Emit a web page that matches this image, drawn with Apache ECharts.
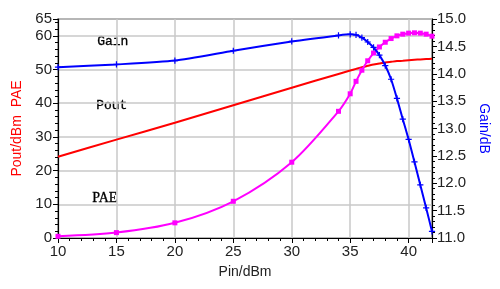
<!DOCTYPE html>
<html>
<head>
<meta charset="utf-8">
<script src="https://cdn.jsdelivr.net/npm/echarts@6/dist/echarts.min.js"></script>
<style>
html,body{margin:0;padding:0;background:#fff;}
#c{width:500px;height:289px;}
</style>
</head>
<body>
<div id="c"></div>
<script>
// Pin/dBm values (x)
const pin = [10, 15, 20, 25, 30, 34, 35, 35.5, 36, 36.5, 37, 37.5, 38, 38.5, 39, 39.5, 40, 40.5, 41, 41.5, 42];
// Pout/dBm (left axis)
const pout = [24.1, 29.2, 34.2, 39.4, 44.6, 48.7, 49.7, 50.2, 50.7, 51.1, 51.5, 51.8, 52.1, 52.3, 52.5, 52.6, 52.75, 52.9, 53.0, 53.1, 53.2];
// PAE (left axis)
const pae = [0.5, 1.6, 4.5, 10.9, 22.5, 37.6, 42.8, 46.5, 49.8, 52.6, 54.9, 56.7, 58.1, 59.2, 60.0, 60.5, 60.8, 60.9, 60.8, 60.5, 59.9];
// Gain/dB (right axis)
const gain = [14.12, 14.17, 14.24, 14.42, 14.59, 14.70, 14.72, 14.71, 14.66, 14.58, 14.48, 14.34, 14.15, 13.90, 13.55, 13.17, 12.80, 12.39, 11.97, 11.55, 11.12];

const xTicks = [10, 15, 20, 25, 30, 35, 40];
const leftTicks = [0, 10, 20, 30, 40, 50, 60, 65];
const rightTicks = [11.0, 11.5, 12.0, 12.5, 13.0, 13.5, 14.0, 14.5, 15.0];

const zip = (xs, ys) => xs.map((x, i) => [x, ys[i]]);

const chart = echarts.init(document.getElementById('c'), null, {renderer: 'canvas'});
const labelFont = {fontFamily: 'Liberation Sans', fontSize: 15, color: '#222'};
chart.setOption({
  animation: false,
  backgroundColor: '#fff',
  grid: {left: 58, right: 68, top: 19, bottom: 51, show: true, borderColor: '#000', borderWidth: 1.2, backgroundColor: 'transparent'},
  xAxis: {
    type: 'value', min: xTicks[0], max: 42, interval: 5,
    name: 'Pin/dBm', nameLocation: 'middle', nameGap: 27,
    nameTextStyle: {fontFamily: 'Liberation Sans', fontSize: 14, color: '#222'},
    axisLine: {show: true, lineStyle: {color: '#000', width: 1.2}},
    axisTick: {show: true, inside: false, length: 5, lineStyle: {color: '#000'}},
    minorTick: {show: true, splitNumber: 5, length: 3, lineStyle: {color: '#000'}},
    axisLabel: Object.assign({margin: 6, showMaxLabel: false, formatter: v => xTicks.includes(v) ? String(v) : ''}, labelFont),
    splitLine: {show: true, lineStyle: {color: '#c8c8c8', width: 1.5}}
  },
  yAxis: [{
    type: 'value', min: leftTicks[0], max: 65, interval: 10, position: 'left',
    name: 'Pout/dBm  PAE', nameLocation: 'middle', nameGap: 30, nameRotate: 90,
    nameTextStyle: {fontFamily: 'Liberation Sans', fontSize: 14, color: '#ff0000'},
    axisLine: {show: true, lineStyle: {color: '#000', width: 1.2}},
    axisTick: {show: true, inside: false, length: 5, lineStyle: {color: '#000'}},
    minorTick: {show: true, splitNumber: 5, length: 3, lineStyle: {color: '#000'}},
    axisLabel: Object.assign({margin: 6, formatter: v => leftTicks.includes(v) ? String(v) : ''}, labelFont),
    splitLine: {show: true, lineStyle: {color: '#c8c8c8', width: 1.5}}
  }, {
    type: 'value', min: 11, max: 15, interval: 0.5, position: 'right',
    name: 'Gain/dB', nameLocation: 'middle', nameGap: 41, nameRotate: -90,
    nameTextStyle: {fontFamily: 'Liberation Sans', fontSize: 14, color: '#0000ff'},
    axisLine: {show: true, lineStyle: {color: '#000', width: 1.2}},
    axisTick: {show: true, inside: false, length: 5, lineStyle: {color: '#000'}},
    minorTick: {show: true, splitNumber: 5, length: 3, lineStyle: {color: '#000'}},
    axisLabel: Object.assign({margin: 5, formatter: v => v.toFixed(1)}, labelFont),
    splitLine: {show: false}
  }],
  series: [{
    name: 'Pout', type: 'line', yAxisIndex: 0, data: zip(pin, pout),
    showSymbol: false, symbol: 'none', smooth: 0.2,
    lineStyle: {color: '#ff0000', width: 2}, itemStyle: {color: '#ff0000'}, z: 3
  }, {
    name: 'PAE', type: 'line', yAxisIndex: 0, data: zip(pin, pae),
    symbol: 'rect', symbolSize: 5, smooth: 0.3,
    lineStyle: {color: '#ff00ff', width: 2}, itemStyle: {color: '#ff00ff'}, z: 4
  }, {
    name: 'Gain', type: 'line', yAxisIndex: 1, data: zip(pin, gain),
    symbol: 'path://M0,4L8,4L8,4.01L0,4.01ZM4,0L4,8L4.01,8L4.01,0Z', symbolSize: 5, smooth: 0.2,
    lineStyle: {color: '#0000ff', width: 2}, itemStyle: {color: '#0000ff', borderColor: '#0000ff', borderWidth: 1.2}, z: 5
  }],
  graphic: [
    {type: 'text', left: 97, top: 35, style: {text: 'Gain', fontFamily: 'Liberation Mono', fontSize: 13, fill: '#000', stroke: '#000', lineWidth: 0.3}},
    {type: 'text', left: 96, top: 99, style: {text: 'Pout', fontFamily: 'Liberation Mono', fontSize: 13, fill: '#000', stroke: '#000', lineWidth: 0.3}},
    {type: 'text', left: 92, top: 191, style: {text: 'PAE', fontFamily: 'Liberation Serif', fontSize: 14, fill: '#000', stroke: '#000', lineWidth: 0.3}}
  ]
});
</script>
</body>
</html>
